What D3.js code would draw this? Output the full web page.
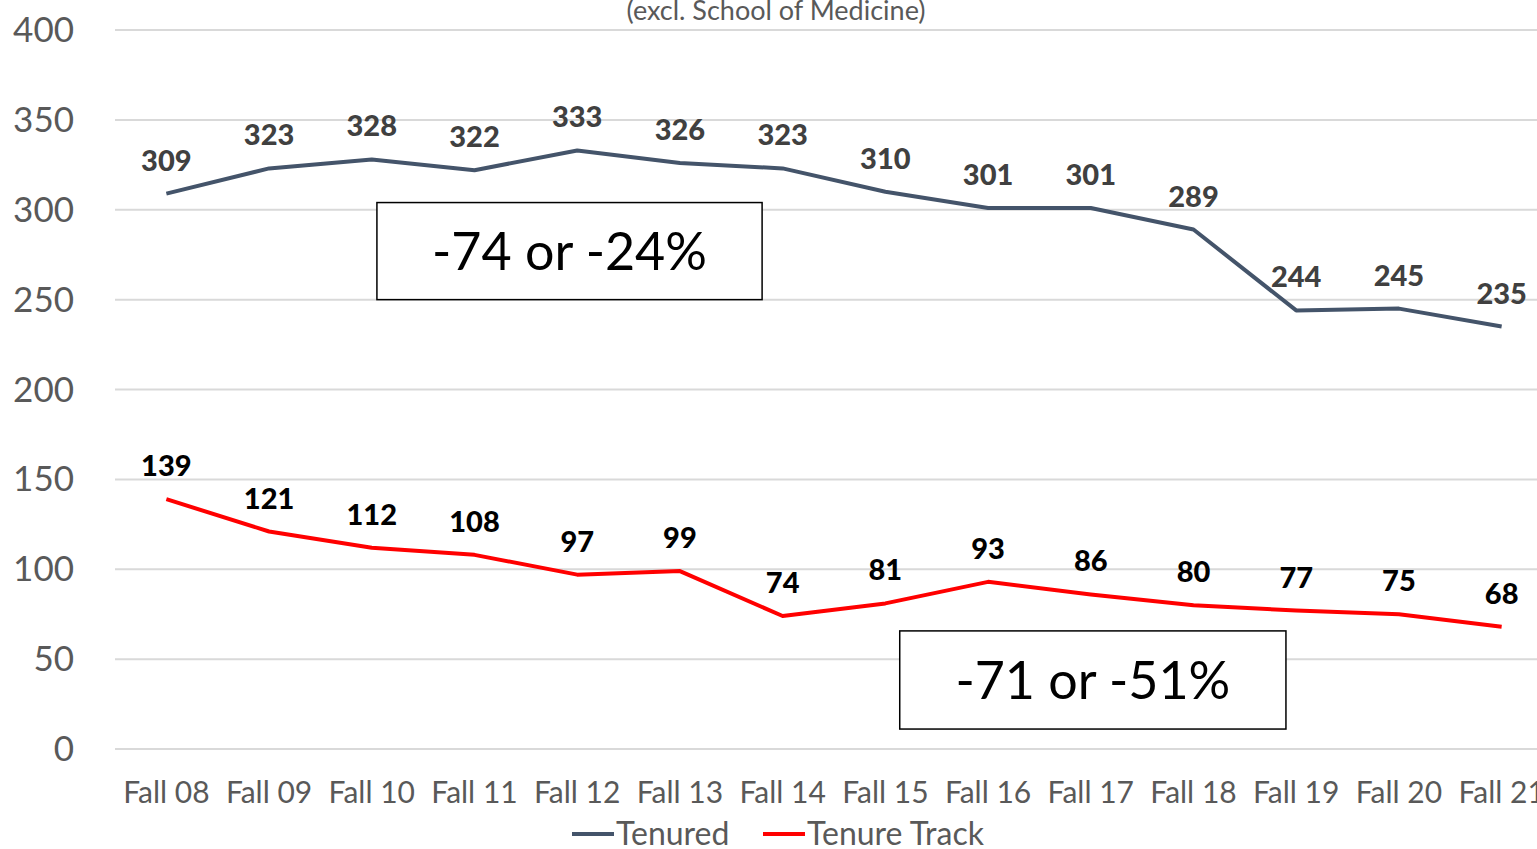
<!DOCTYPE html>
<html>
<head>
<meta charset="utf-8">
<script src="https://cdn.jsdelivr.net/npm/d3@7"></script>
<style>
  body { margin: 0; background: #fff; }
  text { font-family: Lato, "Open Sans", sans-serif; }
</style>
</head>
<body>
<div id="chart"></div>
<script>
var categories = ["Fall 08","Fall 09","Fall 10","Fall 11","Fall 12","Fall 13","Fall 14","Fall 15","Fall 16","Fall 17","Fall 18","Fall 19","Fall 20","Fall 21"];
var tenured = [309,323,328,322,333,326,323,310,301,301,289,244,245,235];
var tenureTrack = [139,121,112,108,97,99,74,81,93,86,80,77,75,68];
var yTicks = [0,50,100,150,200,250,300,350,400];
var seriesNames = ["Tenured","Tenure Track"];
var subtitle = "(excl. School of Medicine)";
var notes = [
  {text: "-74 or -24%", i0: 2.05, i1: 5.8, v0: 304, v1: 250},
  {text: "-71 or -51%", i0: 7.14, i1: 10.9, v0: 65.7, v1: 11.1}
];

var W = 1537, H = 849;
var svg = d3.select("#chart").append("svg").attr("width", W).attr("height", H);

var x = d3.scalePoint().domain(categories).range([115, 1553]).padding(0.5);
var step = x.step();
function xi(i){ return x(categories[0]) + step * i; }
var y = d3.scaleLinear().domain([0, 400]).range([749, 30]);

// gridlines
svg.append("g").selectAll("line").data(yTicks).enter().append("line")
  .attr("x1", 115).attr("x2", W)
  .attr("y1", function(d){ return y(d); }).attr("y2", function(d){ return y(d); })
  .attr("stroke", "#d9d9d9").attr("stroke-width", 2);

// y labels
svg.append("g").selectAll("text").data(yTicks).enter().append("text")
  .attr("x", 74).attr("y", function(d){ return y(d) + 12; })
  .attr("text-anchor", "end")
  .attr("font-size", 35).attr("fill", "#595959")
  .text(function(d){ return d; });

// x labels
svg.append("g").selectAll("text").data(categories).enter().append("text")
  .attr("x", function(d){ return x(d); }).attr("y", 803)
  .attr("text-anchor", "middle")
  .attr("font-size", 30).attr("fill", "#595959")
  .text(function(d){ return d; });

// subtitle
svg.append("text").attr("x", 776).attr("y", 20).attr("text-anchor", "middle")
  .attr("font-size", 27).attr("fill", "#595959").text(subtitle);

var line = d3.line()
  .x(function(d, i){ return x(categories[i]); })
  .y(function(d){ return y(d); });

var series = [
  {name: seriesNames[0], values: tenured, color: "#44546a", label: "#404040"},
  {name: seriesNames[1], values: tenureTrack, color: "#ff0000", label: "#000000"}
];

series.forEach(function(s){
  svg.append("path").datum(s.values)
    .attr("d", line).attr("fill", "none")
    .attr("stroke", s.color).attr("stroke-width", 4)
    .attr("stroke-linejoin", "round");
  svg.append("g").selectAll("text").data(s.values).enter().append("text")
    .attr("x", function(d, i){ return x(categories[i]); })
    .attr("y", function(d){ return y(d) - 23; })
    .attr("text-anchor", "middle")
    .attr("font-size", 29).attr("font-weight", "900").attr("fill", s.label)
    .text(function(d){ return d; });
});

// annotation boxes
notes.forEach(function(n){
  var x0 = xi(n.i0), x1 = xi(n.i1), y0 = y(n.v0), y1 = y(n.v1);
  svg.append("rect").attr("x", x0).attr("y", y0)
    .attr("width", x1 - x0).attr("height", y1 - y0)
    .attr("fill", "#fff").attr("stroke", "#000").attr("stroke-width", 1.5);
  svg.append("text").attr("x", (x0 + x1) / 2).attr("y", (y0 + y1) / 2 + 19)
    .attr("text-anchor", "middle").attr("font-size", 52).attr("fill", "#000")
    .text(n.text);
});

// legend
var leg = [
  {name: seriesNames[0], color: "#44546a", x: 572},
  {name: seriesNames[1], color: "#ff0000", x: 763}
];
leg.forEach(function(l){
  svg.append("line").attr("x1", l.x).attr("x2", l.x + 42)
    .attr("y1", 834).attr("y2", 834)
    .attr("stroke", l.color).attr("stroke-width", 4);
  svg.append("text").attr("x", l.x + 44).attr("y", 845)
    .attr("font-size", 32).attr("fill", "#595959").text(l.name);
});
</script>
</body>
</html>
